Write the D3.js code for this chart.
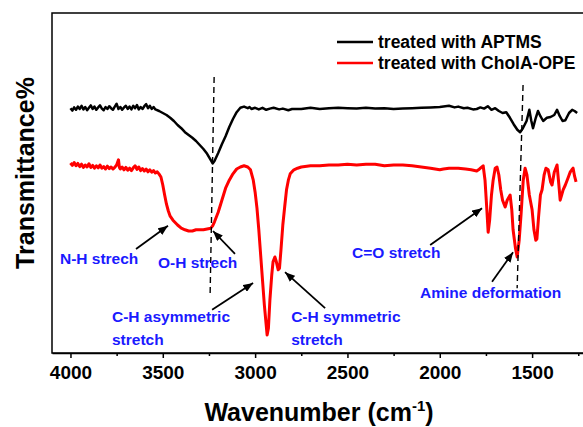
<!DOCTYPE html>
<html>
<head>
<meta charset="utf-8">
<script src="https://cdn.jsdelivr.net/npm/d3@7"></script>
<style>
  body { margin: 0; background: #fff; }
  svg { display: block; font-family: "Liberation Sans", Arial, sans-serif; }
</style>
</head>
<body>
<svg id="chart" width="583" height="427"></svg>
<script>
// FTIR spectra: [wavenumber (cm-1), transmittance (arb. units, offset)]
const aptmsSpectrum = [
  [4000,61.2],[3990,60.6],[3980,61.4],[3970,60.8],[3960,61.6],[3950,61.0],[3940,61.8],
  [3930,60.9],[3920,61.5],[3910,60.7],[3900,61.3],[3890,61.9],[3880,61.0],[3870,61.6],
  [3860,60.8],[3850,61.4],[3840,61.9],[3830,61.1],[3820,60.7],[3810,61.5],[3800,61.0],
  [3790,61.7],[3780,61.2],[3770,60.8],[3760,61.6],[3750,62.3],[3740,61.0],[3730,61.5],
  [3720,60.8],[3710,61.4],[3700,61.8],[3690,61.0],[3680,61.6],[3670,60.9],[3660,61.8],
  [3650,61.2],[3640,62.0],[3630,60.9],[3620,61.5],[3610,61.0],[3600,61.7],[3590,62.2],
  [3580,61.2],[3570,61.8],[3560,61.0],[3550,61.5],[3540,60.9],[3520,60.5],[3500,60.0],
  [3480,59.5],[3460,58.8],[3440,58.0],[3420,57.0],[3400,56.2],[3380,55.2],[3360,54.5],
  [3340,53.8],[3320,53.0],[3300,52.0],[3280,51.0],[3260,49.8],[3240,48.2],[3230,47.4],
  [3220,48.0],[3200,50.0],[3180,52.2],[3160,54.2],[3140,56.5],[3120,58.5],[3100,60.2],
  [3080,61.3],[3060,61.6],[3040,61.2],[3030,61.5],[3020,61.0],[3000,61.3],[2980,60.9],
  [2960,61.3],[2940,60.8],[2920,61.1],[2900,61.3],[2870,60.9],[2850,61.1],[2820,60.7],
  [2800,61.0],[2750,61.0],[2700,61.3],[2650,61.0],[2600,61.2],[2550,61.3],[2500,61.2],
  [2450,61.1],[2400,61.3],[2350,61.1],[2300,61.2],[2250,61.0],[2200,61.1],[2150,61.2],
  [2100,61.3],[2050,61.4],[2000,61.5],[1950,61.8],[1920,61.4],[1900,61.6],[1870,61.2],
  [1850,61.3],[1820,60.9],[1800,61.0],[1780,61.4],[1760,61.1],[1740,61.7],[1720,60.8],
  [1700,61.2],[1680,60.5],[1660,60.0],[1640,60.2],[1620,58.8],[1600,57.2],[1580,55.8],
  [1565,55.2],[1550,56.2],[1530,58.0],[1515,60.8],[1505,58.2],[1495,56.2],[1480,58.8],
  [1468,60.5],[1455,59.2],[1440,58.0],[1420,58.8],[1400,59.0],[1380,59.5],[1365,60.8],
  [1350,59.2],[1335,58.0],[1320,58.2],[1300,60.0],[1283,60.8],[1270,60.5],[1256,60.0]
];

const cholaOpeSpectrum = [
  [4000,47.5],[3990,46.9],[3980,47.6],[3970,46.8],[3960,47.4],[3950,46.6],[3940,47.2],
  [3930,46.4],[3920,47.0],[3910,46.5],[3900,47.3],[3890,46.4],[3880,46.9],[3870,46.2],
  [3860,46.8],[3850,46.3],[3840,47.0],[3830,46.2],[3820,46.6],[3810,46.0],[3800,46.7],
  [3790,46.1],[3780,46.5],[3770,46.0],[3760,46.4],[3750,47.0],[3740,48.3],[3735,46.4],
  [3730,46.0],[3720,46.5],[3710,45.8],[3700,46.4],[3690,45.7],[3680,46.2],[3670,45.6],
  [3660,46.3],[3650,46.8],[3640,45.9],[3630,46.5],[3620,45.6],[3610,46.1],[3600,45.5],
  [3590,46.0],[3580,45.3],[3570,45.8],[3560,45.2],[3550,45.6],[3540,45.0],[3530,45.3],
  [3520,44.7],[3510,44.0],[3500,42.0],[3490,39.5],[3480,37.2],[3470,35.5],[3460,34.2],
  [3445,33.2],[3420,32.0],[3400,31.2],[3380,30.8],[3360,30.5],[3340,30.5],[3320,30.8],
  [3300,30.8],[3280,30.8],[3260,31.0],[3240,31.2],[3230,31.8],[3220,32.8],[3200,35.2],
  [3180,38.2],[3160,41.2],[3140,43.2],[3120,44.8],[3100,46.0],[3080,46.5],[3060,46.8],
  [3040,46.5],[3025,45.8],[3010,43.2],[3000,40.2],[2990,36.2],[2980,30.8],[2970,24.5],
  [2960,18.2],[2950,12.0],[2940,7.0],[2935,4.5],[2928,6.2],[2920,13.2],[2910,19.5],
  [2903,22.8],[2893,24.0],[2885,22.8],[2875,20.8],[2868,21.2],[2860,25.8],[2850,32.0],
  [2840,36.5],[2830,40.8],[2820,43.2],[2810,44.8],[2790,45.8],[2770,46.2],[2750,46.5],
  [2700,46.8],[2650,46.8],[2600,47.0],[2550,47.0],[2500,47.2],[2450,47.0],[2400,47.2],
  [2350,47.2],[2300,46.8],[2250,47.0],[2200,47.0],[2150,46.8],[2100,46.5],[2050,46.2],
  [2000,45.8],[1980,46.0],[1950,46.2],[1900,46.2],[1860,46.0],[1830,45.8],[1800,45.5],
  [1790,45.8],[1780,46.2],[1765,46.8],[1755,43.2],[1745,35.8],[1738,30.2],[1730,33.2],
  [1720,39.5],[1711,43.2],[1700,46.2],[1690,46.5],[1680,44.5],[1670,40.8],[1660,38.2],
  [1646,36.5],[1635,38.2],[1619,39.5],[1610,35.8],[1603,30.8],[1590,26.2],[1581,24.0],
  [1570,28.2],[1560,34.5],[1548,43.2],[1538,46.2],[1528,44.5],[1515,39.5],[1500,35.8],
  [1490,30.8],[1480,28.2],[1474,28.5],[1465,34.0],[1455,39.5],[1446,40.8],[1435,44.5],
  [1425,46.2],[1413,45.8],[1400,42.8],[1392,42.0],[1380,45.2],[1365,47.0],[1355,42.0],
  [1348,38.2],[1340,39.5],[1332,40.8],[1320,42.0],[1305,43.8],[1294,45.2],[1285,45.8],
  [1278,46.2],[1270,44.2],[1262,42.8]
];

const xMajorTicks = [4000, 3500, 3000, 2500, 2000, 1500];
const xMinorTicks = [3750, 3250, 2750, 2250, 1750, 1250];

const seriesNames = ["treated with APTMS", "treated with CholA-OPE"];
const seriesColors = ["#000000", "#ff0000"];

// Dashed guide lines: [[wavenumber, T] top, [wavenumber, T] bottom]
const guideLines = [
  [[3222, 69.0], [3244, 14.0]],
  [[1549, 67.0], [1581, 16.2]]
];

// Band assignments: label lines, label anchor, arrow tail and head (data units)
const bandLabels = [
  { lines: ["N-H strech"], at: [4057, 23.5], from: [3645, 26.0], to: [3472, 31.8] },
  { lines: ["O-H strech"], at: [3526, 22.5], from: [3109, 24.8], to: [3228, 30.5] },
  { lines: ["C-H asymmetric", "stretch"], at: [3775, 9.0], from: [3233, 10.8], to: [3011, 17.5] },
  { lines: ["C-H symmetric", "stretch"], at: [2805, 9.0], from: [2621, 11.2], to: [2838, 20.2] },
  { lines: ["C=O stretch"], at: [2475, 25.2], from: [2052, 27.0], to: [1771, 36.2] },
  { lines: ["Amine deformation"], at: [2107, 15.2], from: [1717, 17.8], to: [1603, 25.2] }
];

const svg = d3.select("#chart");
const plot = { left: 52, top: 13, bottom: 353 };

const x = d3.scaleLinear().domain([4100, 1200]).range([plot.left, 587.5]);
const y = d3.scaleLinear().domain([0, 85]).range([plot.bottom, plot.top]);

// frame (the right edge falls just outside the view)
svg.append("rect")
  .attr("x", plot.left).attr("y", plot.top)
  .attr("width", x(1200) - plot.left).attr("height", plot.bottom - plot.top)
  .attr("fill", "none").attr("stroke", "#000").attr("stroke-width", 1.5);

// x axis: major ticks with labels, minor ticks without
const xAxis = svg.append("g")
  .attr("transform", `translate(0,${plot.bottom})`)
  .call(d3.axisBottom(x).tickValues(xMajorTicks).tickSize(5).tickSizeOuter(0)
    .tickPadding(8).tickFormat(d3.format("d")));
xAxis.select(".domain").attr("stroke-width", 1.5);
xAxis.selectAll(".tick line").attr("stroke-width", 1.5);
xAxis.selectAll(".tick text")
  .attr("font-size", 19).attr("font-weight", "bold")
  .attr("font-family", "'Liberation Sans', Arial, sans-serif").attr("fill", "#000");

const xMinor = svg.append("g")
  .attr("transform", `translate(0,${plot.bottom})`)
  .call(d3.axisBottom(x).tickValues(xMinorTicks).tickSize(3).tickSizeOuter(0).tickFormat(""));
xMinor.select(".domain").remove();
xMinor.selectAll(".tick line").attr("stroke-width", 1.5);

// axis titles
const xTitle = svg.append("text")
  .attr("x", 319).attr("y", 421)
  .attr("text-anchor", "middle")
  .attr("font-size", 25).attr("font-weight", "bold");
xTitle.append("tspan").text("Wavenumber (cm");
xTitle.append("tspan").attr("font-size", 15).attr("dy", -10).text("-1");
xTitle.append("tspan").attr("dy", 10).text(")");

svg.append("text")
  .attr("transform", "translate(34,173) rotate(-90)")
  .attr("text-anchor", "middle")
  .attr("font-size", 25).attr("font-weight", "bold")
  .text("Transmittance%");

// spectra
const line = d3.line().x(d => x(d[0])).y(d => y(d[1]));
[aptmsSpectrum, cholaOpeSpectrum].forEach((s, i) => {
  svg.append("path")
    .datum(s)
    .attr("d", line)
    .attr("fill", "none")
    .attr("stroke", seriesColors[i])
    .attr("stroke-width", i === 0 ? 2.5 : 3)
    .attr("stroke-linejoin", "round");
});

// dashed guides
guideLines.forEach(g => {
  svg.append("line")
    .attr("x1", x(g[0][0])).attr("y1", y(g[0][1]))
    .attr("x2", x(g[1][0])).attr("y2", y(g[1][1]))
    .attr("stroke", "#000").attr("stroke-width", 1.4)
    .attr("stroke-dasharray", "6,4");
});

// arrow marker
svg.append("defs").append("marker")
  .attr("id", "arrowhead")
  .attr("viewBox", "0 0 10 8")
  .attr("refX", 10).attr("refY", 4)
  .attr("markerWidth", 10).attr("markerHeight", 8)
  .attr("markerUnits", "userSpaceOnUse")
  .attr("orient", "auto")
  .append("path").attr("d", "M0,0 L10,4 L0,8 Z").attr("fill", "#000");

// band labels with arrows
bandLabels.forEach(b => {
  svg.append("line")
    .attr("x1", x(b.from[0])).attr("y1", y(b.from[1]))
    .attr("x2", x(b.to[0])).attr("y2", y(b.to[1]))
    .attr("stroke", "#000").attr("stroke-width", 1.8)
    .attr("marker-end", "url(#arrowhead)");
  const t = svg.append("text")
    .attr("x", x(b.at[0])).attr("y", y(b.at[1]))
    .attr("font-size", 15.5).attr("font-weight", "bold")
    .attr("fill", "#1a1aff");
  b.lines.forEach((l, k) => {
    t.append("tspan")
      .attr("x", x(b.at[0]))
      .attr("dy", k === 0 ? "0.35em" : 23)
      .text(l);
  });
});

// legend
const legend = svg.append("g");
seriesNames.forEach((name, i) => {
  const ly = 42 + i * 21;
  legend.append("line")
    .attr("x1", 337).attr("x2", 373).attr("y1", ly).attr("y2", ly)
    .attr("stroke", seriesColors[i]).attr("stroke-width", 2.6);
  legend.append("text")
    .attr("x", 378).attr("y", ly).attr("dy", "0.35em")
    .attr("font-size", 17.5).attr("font-weight", "bold")
    .text(name);
});
</script>
</body>
</html>
